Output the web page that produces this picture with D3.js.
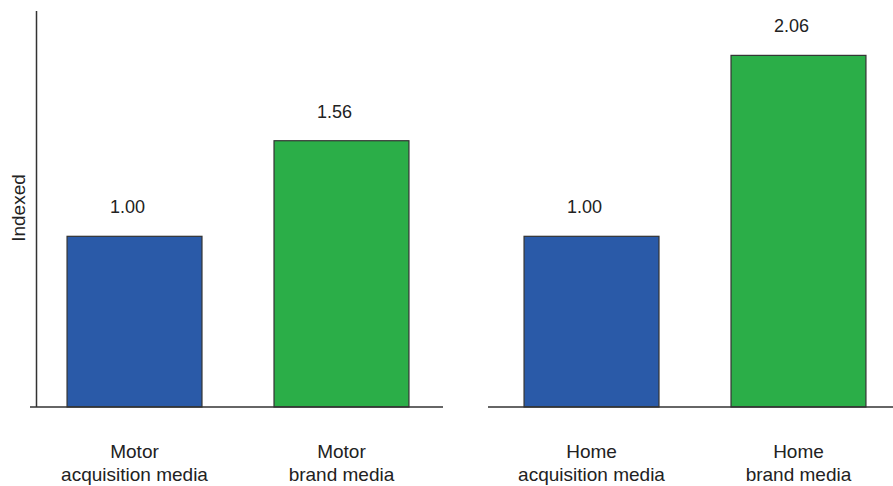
<!DOCTYPE html>
<html>
<head>
<meta charset="utf-8">
<script src="https://cdn.jsdelivr.net/npm/d3@7"></script>
<style>
  html, body { margin: 0; padding: 0; background: #fff; }
  svg { display: block; }
  text { font-family: "Liberation Sans", Arial, Helvetica, sans-serif; fill: #222; }
</style>
</head>
<body>
<svg id="chart" width="893" height="486"></svg>
<script>
// Indexed effectiveness of acquisition vs brand media, per product line
const motorCategories = ["Motor\nacquisition media", "Motor\nbrand media"];
const motorValues = [1.00, 1.56];
const homeCategories = ["Home\nacquisition media", "Home\nbrand media"];
const homeValues = [1.00, 2.06];
const valueLabels = ["1.00", "1.56", "1.00", "2.06"];
const barColors = ["#2a5aa8", "#2bae48"];
const yLabel = "Indexed";

const svg = d3.select("#chart");
const baseY = 407;
const labelSize = 19;
const valueSize = 18;

const y = d3.scaleLinear().domain([0, 2.32]).range([baseY, 11]);

// y axis line (left panel only, no ticks)
svg.append("line")
  .attr("x1", 36.5).attr("x2", 36.5)
  .attr("y1", y(2.32)).attr("y2", baseY)
  .attr("stroke", "#333").attr("stroke-width", 1.5);

svg.append("text")
  .attr("transform", `translate(25,${208}) rotate(-90)`)
  .attr("text-anchor", "middle")
  .attr("font-size", labelSize)
  .text(yLabel);

const panels = [
  { cats: motorCategories, vals: motorValues, labels: valueLabels.slice(0, 2), range: [30, 446], base: [30, 443] },
  { cats: homeCategories, vals: homeValues, labels: valueLabels.slice(2, 4), range: [487, 903], base: [488, 893] }
];

panels.forEach(p => {
  const x = d3.scaleBand()
    .domain(p.cats)
    .range(p.range)
    .paddingInner(0.348)
    .paddingOuter(0.179);

  const g = svg.append("g");

  g.selectAll("rect")
    .data(p.vals)
    .join("rect")
    .attr("x", (d, i) => x(p.cats[i]))
    .attr("y", d => y(d))
    .attr("width", x.bandwidth())
    .attr("height", d => baseY - y(d))
    .attr("fill", (d, i) => barColors[i])
    .attr("stroke", "#333")
    .attr("stroke-width", 1.2);

  // baseline
  g.append("line")
    .attr("x1", p.base[0]).attr("x2", p.base[1])
    .attr("y1", baseY).attr("y2", baseY)
    .attr("stroke", "#333").attr("stroke-width", 1.5);

  // value labels, set slightly left of the bar centre
  g.selectAll("text.val")
    .data(p.vals)
    .join("text")
    .attr("class", "val")
    .attr("x", (d, i) => x(p.cats[i]) + x.bandwidth() / 2 - 7)
    .attr("y", d => y(d) - 23)
    .attr("text-anchor", "middle")
    .attr("font-size", valueSize)
    .text((d, i) => p.labels[i]);

  // category labels (two lines)
  p.cats.forEach(c => {
    const t = g.append("text")
      .attr("text-anchor", "middle")
      .attr("font-size", labelSize);
    c.split("\n").forEach((line, j) => {
      t.append("tspan")
        .attr("x", x(c) + x.bandwidth() / 2)
        .attr("y", 458 + j * 23)
        .text(line);
    });
  });
});
</script>
</body>
</html>
